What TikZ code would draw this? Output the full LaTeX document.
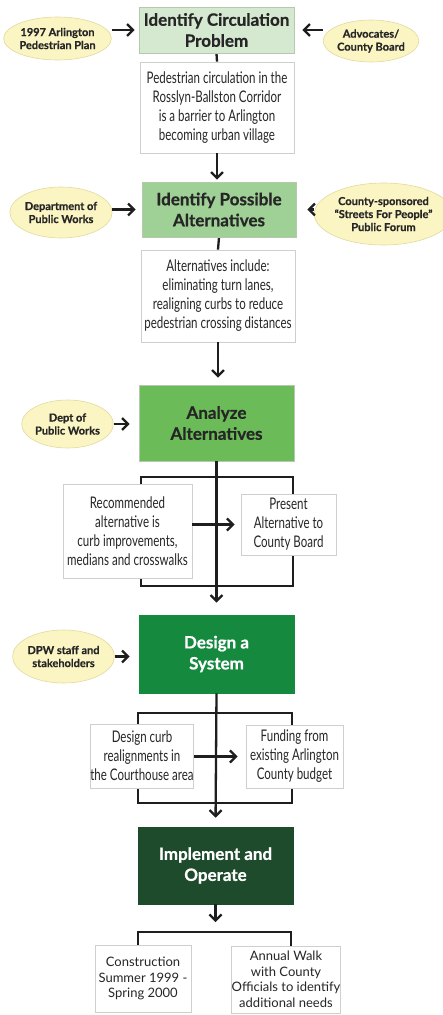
\documentclass[tikz,border=0pt]{standalone}
\usepackage{fontspec}
\setmainfont{Lato}
\newfontfamily\condfont[FakeStretch=0.72]{Lato}
\newfontfamily\heavy[BoldFeatures={FakeBold=0.7}]{Lato}
\usetikzlibrary{arrows.meta,shapes.geometric,backgrounds,calc}
\definecolor{ellfill}{HTML}{FBF5C4}
\definecolor{ellborder}{HTML}{E2DA9C}
\definecolor{sone}{HTML}{D5E8D0}
\definecolor{stwo}{HTML}{9FD196}
\definecolor{sthree}{HTML}{6BBB58}
\definecolor{sfour}{HTML}{15893E}
\definecolor{sfive}{HTML}{1E4B2C}
\definecolor{sborder}{HTML}{B5C9AF}
\definecolor{notegray}{HTML}{CFCFCF}
\definecolor{ink}{HTML}{262626}
\definecolor{linecol}{HTML}{1E1E1E}
\tikzset{
  stagebox/.style={rectangle, inner sep=0pt, align=center, draw=sborder, line width=0.6pt,
    font=\heavy\bfseries\fontsize{17}{21}\selectfont, text=ink},
  notebox/.style={rectangle, inner sep=0pt, align=center, draw=notegray, fill=white, line width=0.8pt,
    font=\condfont\fontsize{16}{19}\selectfont, text=ink},
  plainnote/.style={notebox, font=\fontsize{13}{15.5}\selectfont},
  srcell/.style={ellipse, inner sep=0pt, align=center, draw=ellborder, fill=ellfill, line width=0.6pt,
    font=\heavy\bfseries\fontsize{11}{13}\selectfont, text=ink},
  flow/.style={draw=linecol, line width=2.3pt, -{Straight Barb[length=6pt,width=12pt]}},
  link/.style={draw=linecol, line width=2.3pt},
  bracketline/.style={draw=linecol, line width=2.4pt},
}
\begin{document}
\begin{tikzpicture}[x=1pt,y=-1pt]
\useasboundingbox (0,0) rectangle (443,1015);
% stage boxes
\node[stagebox, fill=sone, minimum width=155pt, minimum height=46pt] (s1) at (216.5,30) {Identify Circulation\\Problem};
\node[stagebox, fill=stwo, minimum width=154pt, minimum height=55pt] (s2) at (219,209.5) {Identify Possible\\Alternatives};
\node[stagebox, fill=sthree, minimum width=155pt, minimum height=76pt] (s3) at (216.5,423) {Analyze\\Alternatives};
\node[stagebox, fill=sfour, draw=sfour, minimum width=155pt, minimum height=78pt, text=white] (s4) at (216.5,654) {Design a\\System};
\node[stagebox, fill=sfive, draw=sfive, minimum width=155pt, minimum height=77pt, text=white] (s5) at (215.5,865.5) {Implement and\\Operate};
% notes
\node[notebox, minimum width=154pt, minimum height=91pt] (n1) at (217,107.5) {Pedestrian circulation in the\\Rosslyn-Ballston Corridor\\is a barrier to Arlington\\becoming urban village};
\node[notebox, minimum width=154pt, minimum height=92pt] (n2) at (218,296) {Alternatives include:\\eliminating turn lanes,\\realigning curbs to reduce\\pedestrian crossing distances};
\node[notebox, minimum width=129pt, minimum height=94pt] (n3a) at (127.5,531) {Recommended\\alternative is\\curb improvements,\\medians and crosswalks};
\node[notebox, minimum width=95pt, minimum height=61pt] (n3b) at (288.5,524.5) {Present\\Alternative to\\County Board};
\node[notebox, minimum width=100pt, minimum height=64pt] (n4a) at (142,756) {Design curb\\realignments in\\the Courthouse area};
\node[notebox, minimum width=97pt, minimum height=63pt] (n4b) at (294.5,756.5) {Funding from\\existing Arlington\\County budget};
\node[plainnote, minimum width=96pt, minimum height=67pt] (n5a) at (143,978.5) {Construction\\Summer 1999 -\\Spring 2000};
\node[plainnote, minimum width=102pt, minimum height=67pt] (n5b) at (286,979.5) {Annual Walk\\with County\\Officials to identify\\additional needs};
% sources
\node[srcell, minimum width=91pt, minimum height=43pt] (e1l) at (57.5,38.5) {1997 Arlington\\Pedestrian Plan};
\node[srcell, minimum width=92pt, minimum height=42pt] (e1r) at (371,41) {Advocates/\\County Board};
\node[srcell, minimum width=94pt, minimum height=51pt] (e2l) at (61,212.5) {Department of\\Public Works};
\node[srcell, minimum width=113pt, minimum height=62pt] (e2r) at (383.5,214) {County-sponsored\\“Streets For People”\\Public Forum};
\node[srcell, minimum width=79pt, minimum height=48pt] (e3l) at (67.5,424) {Dept of\\Public Works};
\node[srcell, minimum width=87pt, minimum height=53pt] (e4l) at (63.5,656.5) {DPW staff and\\stakeholders};
% coordinates
\coordinate (b3tl) at (141,477);
\coordinate (b3br) at (293,586);
\coordinate (b4tl) at (138,713);
\coordinate (b4br) at (292,803);
\coordinate (j5) at (215.5,922);
\coordinate (b5l) at (138,946);
\coordinate (b5r) at (291,946);
\begin{scope}[on background layer]
  \fill[white] (0,0) rectangle (443,1015);
  \draw[bracketline] (b3tl) rectangle (b3br);
  \draw[bracketline] (b4tl) rectangle (b4br);
  \draw[bracketline] (b5l) -- ++(0,-14) -| (b5r);
  \draw[link] (s1.south) -- (n1.north);
  \draw[link] (s2.south) -- (n2.north);
\end{scope}
% flows
\draw[flow, shorten >=4pt] (e1l.east |- s1.west) -- (s1.west);
\draw[flow, shorten >=8pt] (e1r.west |- s1.east) -- (s1.east);
\draw[flow, shorten >=2pt] (n1.south) -- (n1.south |- s2.north);
\draw[flow, shorten >=6pt] (e2l.east |- s2.west) -- (s2.west);
\draw[flow, shorten >=11pt] (e2r.west |- s2.east) -- (s2.east);
\draw[flow, shorten >=7pt] (n2.south) -- (n2.south |- s3.north);
\draw[flow, shorten >=9pt] (e3l.east) -- (e3l.east -| s3.west);
\draw[flow, shorten >=12pt] (s3.south) -- (s4.north);
\draw[flow, shorten >=6pt] (n3b.west -| n3a.east) -- (n3b.west);
\draw[flow, shorten >=9pt] (e4l.east) -- (e4l.east -| s4.west);
\draw[flow, shorten >=9pt] (s4.south) -- (s5.north);
\draw[flow, shorten >=8pt] (n4b.west -| n4a.east) -- (n4b.west);
\draw[flow] (s5.south) -- (j5);
\end{tikzpicture}
\end{document}
